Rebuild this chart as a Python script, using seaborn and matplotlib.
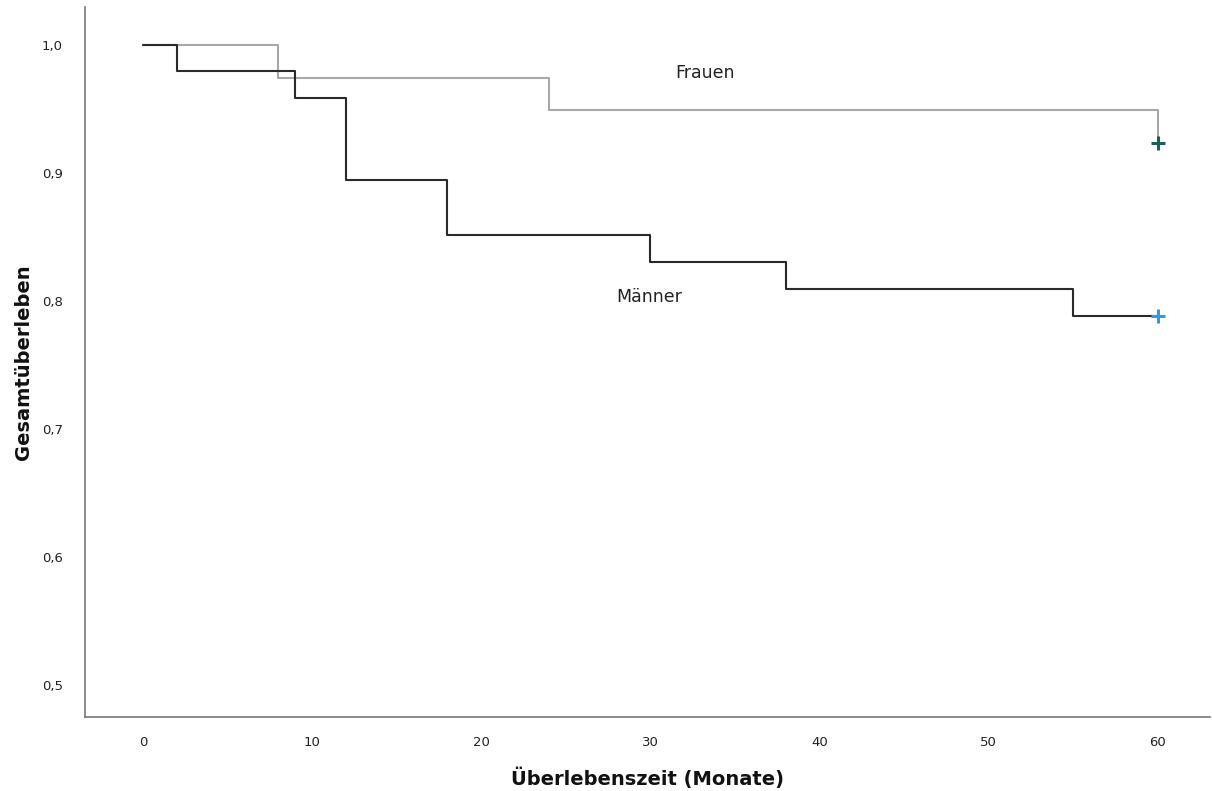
import matplotlib
matplotlib.use("Agg")
import matplotlib.pyplot as plt
import seaborn as sns
import pandas as pd

# Data (Kaplan-Meier step values)
frauen_time = [0, 8, 24, 60]
frauen_surv = [1.0, 0.974, 0.949, 0.923]
maenner_time = [0, 2, 9, 12, 18, 30, 38, 55, 60]
maenner_surv = [1.0, 0.979, 0.958, 0.894, 0.851, 0.830, 0.809, 0.788, 0.788]
censor_time = [60, 60]
censor_surv = [0.923, 0.788]
x_ticks = [0, 10, 20, 30, 40, 50, 60]
y_ticks = [0.5, 0.6, 0.7, 0.8, 0.9, 1.0]
y_tick_labels = ["0,5", "0,6", "0,7", "0,8", "0,9", "1,0"]

sns.set_theme(style="white")
plt.rcParams["font.family"] = ["DejaVu Sans"]

fig = plt.figure(figsize=(12.12, 7.91), dpi=100)
ax = fig.add_axes([0.0701, 0.0936, 0.928, 0.897])

df_f = pd.DataFrame({"t": frauen_time, "s": frauen_surv})
df_m = pd.DataFrame({"t": maenner_time, "s": maenner_surv})

sns.lineplot(data=df_f, x="t", y="s", ax=ax, drawstyle="steps-post",
             color="#a8a8a8", linewidth=1.5, estimator=None)
sns.lineplot(data=df_m, x="t", y="s", ax=ax, drawstyle="steps-post",
             color="#2a2a2a", linewidth=1.5, estimator=None)

ax.plot(censor_time[0], censor_surv[0], marker="+", color="#1b5f5a",
        markersize=10, mew=2.2, linestyle="none")
ax.plot(censor_time[1], censor_surv[1], marker="+", color="#2e9be9",
        markersize=10, mew=2.2, linestyle="none")

ax.text(33.2, 0.978, "Frauen", fontsize=12.5, ha="center", va="center", color="#222222")
ax.text(29.9, 0.803, "Männer", fontsize=12.5, ha="center", va="center", color="#222222")

ax.set_xlim(-3.43, 63.06)
ax.set_ylim(0.475, 1.029)
ax.set_xticks(x_ticks)
ax.set_xticklabels([str(v) for v in x_ticks], fontsize=9.5, color="#222222")
ax.set_yticks(y_ticks)
ax.set_yticklabels(y_tick_labels, fontsize=9.5, color="#222222")
ax.tick_params(axis="x", length=0, pad=14)
ax.tick_params(axis="y", length=0, pad=16)

for side in ["top", "right"]:
    ax.spines[side].set_visible(False)
for side in ["left", "bottom"]:
    ax.spines[side].set_color("#777777")
    ax.spines[side].set_linewidth(1.2)

ax.set_xlabel("Überlebenszeit (Monate)", fontsize=14, fontweight="bold",
              color="#111111", labelpad=13)
ax.set_ylabel("Gesamtüberleben", fontsize=14, fontweight="bold",
              color="#111111", labelpad=6)

fig.savefig("out.png", dpi=100)
